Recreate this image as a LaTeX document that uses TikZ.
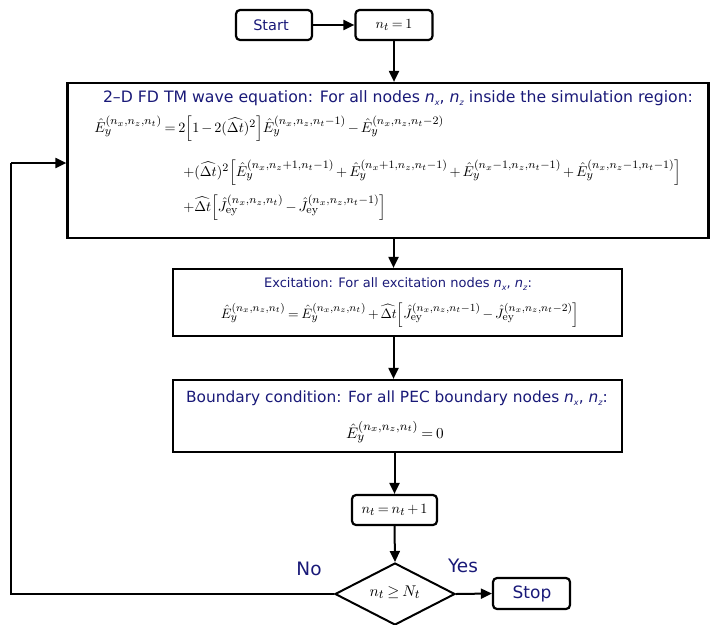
\documentclass[tikz,border=0pt]{standalone}
\usepackage{amsmath}
\usepackage[no-math]{fontspec}
\setmainfont{Liberation Serif}
\setsansfont{DejaVu Sans}
\usetikzlibrary{shapes.geometric,arrows.meta}
\definecolor{navy}{RGB}{25,25,120}
\DeclareMathSizes{10}{10}{8}{6}
\newcommand{\nsb}[1]{\textit{n}\raisebox{-0.35ex}{\footnotesize\textit{#1}}}
\newcommand{\Eh}{\hat{E}_y}
\newcommand{\Jh}{\hat{J}_{\mathrm{ey}}}
\newcommand{\Dt}{\widehat{\Delta t}}
\newcommand{\fs}[1]{\fontsize{#1}{#1}\selectfont}
\newcommand{\tightmath}{\medmuskip=2.5mu plus 1mu minus 1mu\thickmuskip=3.5mu plus 1mu}
\begin{document}
\begin{tikzpicture}[x=1pt,y=-1pt,
  box/.style={draw,line width=2.2pt,inner sep=0pt},
  rbox/.style={box,rounded corners=4pt},
  lbl/.style={text=navy,font=\sffamily,inner sep=0pt},
  eq/.style={inner sep=0pt,font=\tightmath},
  arr/.style={line width=2pt,-{Triangle[length=11pt,width=10pt]}},
  ln/.style={line width=2pt}]
\useasboundingbox (0,0) rectangle (712,624);
\node[rbox,minimum width=76pt,minimum height=30pt] (start) at (274,25) {};
\node[lbl,font=\sffamily\fs{14.5}] (starttxt) at (271,25) {Start};
\node[rbox,minimum width=77pt,minimum height=30pt] (init) at (394,25) {};
\node[eq,scale=1.4] (inittxt) at (394,25) {$n_t=1$};
\node[box,minimum width=641pt,minimum height=155pt] (wave) at (388,160.5) {};
\node[lbl,font=\sffamily\fs{15.7}] (wavetitle) at (398,98) {2–D FD TM wave equation: For all nodes \nsb{x}, \nsb{z} inside the simulation region:};
\node[eq,scale=1.42,anchor=west] (w1) at (94,129) {$\Eh^{(n_x,n_z,n_t)}=2\Bigl[1-2(\Dt)^2\Bigr]\Eh^{(n_x,n_z,n_t-1)}-\Eh^{(n_x,n_z,n_t-2)}$};
\node[eq,scale=1.42,anchor=west] (w2) at (183,173) {$+(\Dt)^2\Bigl[\Eh^{(n_x,n_z+1,n_t-1)}+\Eh^{(n_x+1,n_z,n_t-1)}+\Eh^{(n_x-1,n_z,n_t-1)}+\Eh^{(n_x,n_z-1,n_t-1)}\Bigr]$};
\node[eq,scale=1.42,anchor=west] (w3) at (183,208) {$+\Dt\Bigl[\Jh^{(n_x,n_z,n_t)}-\Jh^{(n_x,n_z,n_t-1)}\Bigr]$};
\node[box,minimum width=449pt,minimum height=67pt] (exc) at (397.5,302.5) {};
\node[lbl,font=\sffamily\fs{13}] (exctitle) at (398,284) {Excitation: For all excitation nodes \nsb{x}, \nsb{z}:};
\node[eq,scale=1.36] (exceq) at (400,315) {$\Eh^{(n_x,n_z,n_t)}=\Eh^{(n_x,n_z,n_t)}+\Dt\Bigl[\Jh^{(n_x,n_z,n_t-1)}-\Jh^{(n_x,n_z,n_t-2)}\Bigr]$};
\node[box,minimum width=449pt,minimum height=72pt] (bnd) at (397.5,416) {};
\node[lbl,font=\sffamily\fs{15.4}] (bndtitle) at (397,398) {Boundary condition: For all PEC boundary nodes \nsb{x}, \nsb{z}:};
\node[eq,scale=1.52] (bndeq) at (395,432) {$\Eh^{(n_x,n_z,n_t)}=0$};
\node[rbox,minimum width=85pt,minimum height=30pt] (incr) at (394.5,510) {};
\node[eq,scale=1.42] (incrtxt) at (394.5,510) {$n_t=n_t+1$};
\node[draw,diamond,line width=2pt,minimum width=120pt,minimum height=62pt,aspect=1.9,inner sep=0pt] (dec) at (395,594) {};
\node[eq,scale=1.55] (dectxt) at (395,592) {$n_t\geq N_t$};
\node[rbox,minimum width=77pt,minimum height=31pt] (stop) at (531.5,593.5) {};
\node[lbl,font=\sffamily\fs{17}] (stoptxt) at (532,593.5) {Stop};
\node[lbl,font=\sffamily\fs{18.5}] (yes) at (463,566) {Yes};
\node[lbl,font=\sffamily\fs{18.5}] (no) at (309,569) {No};
\coordinate (c1) at (11,594);
\coordinate (c2) at (11,163);
\draw[arr] (start.east) -- (init.west);
\draw[arr] (init.south) -- (wave.north -| init.south);
\draw[arr] ([xshift=-4pt]wave.south -| exc.north) -- ([xshift=-4pt]exc.north);
\draw[arr] ([xshift=-4pt]exc.south) -- ([xshift=-4pt]bnd.north);
\draw[arr] ([xshift=-3pt]bnd.south) -- (incr.north);
\draw[arr] (incr.south) -- (dec.north);
\draw[arr] (dec.east) -- (stop.west);
\draw[ln] (dec.west) -- (c1) -- (c2);
\draw[arr] (c2) -- (c2 -| wave.west);
\end{tikzpicture}
\end{document}
